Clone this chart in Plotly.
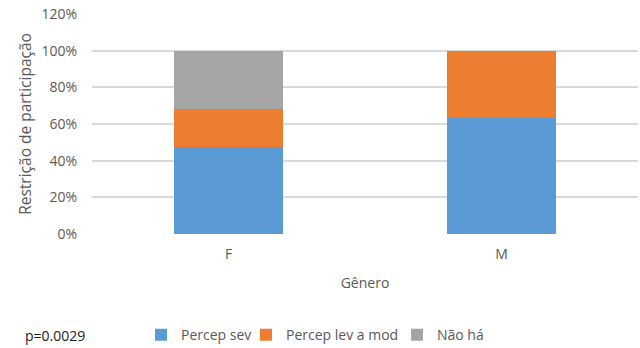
import plotly.graph_objects as go

generos = ["F", "M"]
percep_sev = [47.5, 63.5]
percep_lev_mod = [20.5, 36.5]
nao_ha = [32.0, 0.0]
y_ticks = [0, 20, 40, 60, 80, 100, 120]
y_tick_labels = ["0%", "20%", "40%", "60%", "80%", "100%", "120%"]

FONT = "Open Sans, Noto Sans, sans-serif"
GRAY_TEXT = "#595959"

series = [
    ("Percep sev", percep_sev, "#5B9BD5", "legend", 0.0897),
    ("Percep lev a mod", percep_lev_mod, "#ED7D31", "legend2", 0.282),
    ("Não há", nao_ha, "#A5A5A5", "legend3", 0.5586),
]

fig = go.Figure()
legend_layouts = {}
for nome, vals, cor, leg, lx in series:
    fig.add_trace(go.Bar(x=generos, y=vals, name=nome, marker_color=cor,
                         marker_line_width=0, width=0.4, legend=leg))
    legend_layouts[leg] = dict(orientation="h", x=lx, xanchor="left", y=-0.46,
                               yanchor="middle", font=dict(size=14, color=GRAY_TEXT),
                               itemwidth=30, bgcolor="rgba(0,0,0,0)")

fig.update_layout(
    barmode="stack",
    width=640, height=348,
    margin=dict(l=92, r=2, t=14, b=114, autoexpand=False),
    paper_bgcolor="white", plot_bgcolor="white",
    font=dict(family=FONT, size=14, color=GRAY_TEXT),
    showlegend=True,
    **legend_layouts,
    xaxis=dict(title=dict(text="Gênero", standoff=16, font=dict(size=14)),
               showgrid=False, zeroline=False, showline=False, ticks="",
               ticklabelstandoff=10),
    yaxis=dict(title=dict(text="Restrição de participação", standoff=5, font=dict(size=15.5)),
               range=[0, 120], tickvals=y_ticks, ticktext=y_tick_labels,
               showgrid=True, gridcolor="#D9D9D9", gridwidth=1.5,
               zeroline=False, showline=False, ticks="", ticklabelstandoff=14),
    annotations=[dict(text="p=0.0029", xref="paper", yref="paper",
                      x=-0.126, y=-0.46, xanchor="left", yanchor="middle",
                      showarrow=False, font=dict(size=14, color="#222222"))],
)

fig.write_html("out.html")
